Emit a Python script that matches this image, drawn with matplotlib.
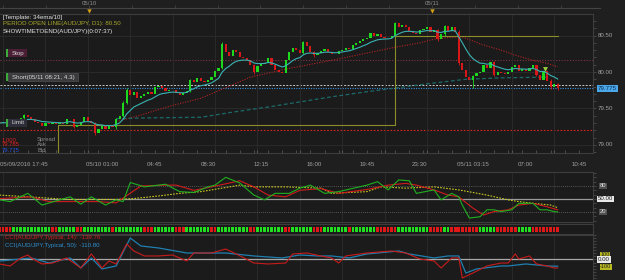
import numpy as np
import pandas as pd
import matplotlib
matplotlib.use("Agg")
import matplotlib.pyplot as plt
from matplotlib.patches import Rectangle
from matplotlib.transforms import blended_transform_factory
from matplotlib.ticker import MultipleLocator

plt.rcParams['font.family'] = ['Liberation Sans', 'DejaVu Sans']

W, H = 625, 280

# ---- data (15 min candles, index 0 = 05/09/2016 17:45) ----
open0 = 79.31
closes = [
    79.30, 79.32, 79.31, 79.33, 79.32, 79.34, 79.37, 79.41, 79.39, 79.35,
    79.31, 79.30, 79.26, 79.30, 79.29, 79.30, 79.29, 79.30, 79.29, 79.36,
    79.35, 79.25, 79.27, 79.32, 79.38, 79.33, 79.30, 79.17, 79.22, 79.26,
    79.22, 79.28, 79.25, 79.36, 79.40, 79.58, 79.75, 79.69, 79.73, 79.65,
    79.67, 79.70, 79.72, 79.70, 79.79, 79.81, 79.78, 79.74, 79.76, 79.75,
    79.71, 79.69, 79.71, 79.74, 79.89, 79.86, 79.92, 79.88, 79.86, 79.89,
    79.93, 80.02, 80.05, 80.38, 80.27, 80.22, 80.30, 80.27, 80.21, 80.19,
    80.16, 80.10, 80.00, 80.08, 80.11, 80.13, 80.19, 80.10, 80.03, 80.00,
    79.98, 80.16, 80.27, 80.33, 80.30, 80.26, 80.41, 80.35, 80.28, 80.23,
    80.26, 80.29, 80.31, 80.28, 80.25, 80.24, 80.29, 80.30, 80.33, 80.32,
    80.37, 80.40, 80.42, 80.45, 80.47, 80.53, 80.50, 80.52, 80.48, 80.47,
    80.46, 80.50, 80.67, 80.62, 80.65, 80.61, 80.56, 80.54, 80.52, 80.57,
    80.59, 80.61, 80.55, 80.58, 80.45, 80.52, 80.63, 80.56, 80.61, 80.55,
    80.12, 80.03, 79.93, 79.89, 79.94, 79.99, 80.00, 80.10, 80.06, 80.14,
    79.96, 80.00, 79.98, 79.97, 80.00, 80.07, 80.10, 80.01, 80.04, 80.02,
    80.05, 80.09, 79.96, 79.89, 80.02, 79.88, 79.80, 79.84, 79.78,
]
# wicks that stick out of the body: index -> (high, low)
wicks = {
    7: (79.43, 79.36), 21: (79.36, 79.23), 27: (79.31, 79.14), 33: (79.37, 79.22),
    35: (79.60, 79.38), 36: (79.78, 79.56), 54: (79.91, 79.72), 63: (80.41, 80.04),
    72: (80.11, 79.97), 86: (80.43, 80.25), 89: (80.29, 80.20), 112: (80.69, 80.49),
    124: (80.59, 80.42), 126: (80.64, 80.50), 130: (80.57, 80.10), 134: (79.96, 79.78),
    140: (80.15, 79.94), 152: (80.10, 79.94), 156: (79.90, 79.77), 158: (79.85, 79.76),
}

ema34_idx = [33, 40, 48, 57, 71, 82, 94, 104, 111, 119, 123, 129, 131, 137, 142, 146, 151, 155, 158]
ema34_val = [79.32, 79.41, 79.53, 79.64, 79.93, 80.05, 80.16, 80.26, 80.33, 80.40, 80.45, 80.48,
             80.48, 80.37, 80.30, 80.23, 80.16, 80.12, 80.07]
slow_idx = [33, 40, 57, 66, 76, 85, 94, 104, 112, 123, 132, 142, 155]
slow_val = [79.36, 79.37, 79.38, 79.45, 79.52, 79.59, 79.66, 79.73, 79.78, 79.85, 79.90, 79.92, 79.93]

period_open_idx = [16.5, 112]
period_open_val = [79.27, 80.50]
prev_period_open = 78.80

stop_price, short_price, bid_price, ask_price, limit_price = 80.16, 79.82, 79.775, 79.785, 79.20
entry_idx = 154.4

time_idx = [0, 29, 44, 59, 74, 89, 104, 119, 134, 149, 164]
time_lbl = ['05/09/2016 17:45', '05/10 01:00', '04:45', '08:30', '12:15', '16:00',
            '19:45', '23:30', '05/11 03:15', '07:00', '10:45']
day_idx = [25, 121]
day_lbl = ['05/10', '05/11']

k_idx = [0, 3, 8, 12, 20, 23, 26, 30, 33, 35, 37, 41, 47, 51, 55, 59, 61, 64, 68, 72,
         75, 78, 82, 85, 88, 92, 96, 104, 107, 110, 113, 116, 118, 123, 125, 128, 130, 131, 133, 136,
         138, 140, 142, 145, 147, 151, 153, 155, 157, 158]
k_val = [48, 44, 63, 36, 55, 38, 55, 36, 48, 44, 88, 78, 84, 67, 65, 78, 82, 100, 87, 59,
         48, 63, 63, 75, 82, 63, 67, 82, 90, 71, 94, 92, 63, 71, 48, 63, 55, 36, 6, 9,
         25, 25, 21, 25, 40, 40, 25, 25, 21, 20]
d_idx = [0, 9, 14, 28, 33, 40, 47, 50, 55, 60, 68, 72, 76, 81, 85, 91, 96, 104, 110, 115,
         118, 123, 127, 130, 134, 137, 140, 144, 147, 151, 155, 158]
d_val = [51, 55, 44, 44, 41, 80, 82, 82, 70, 78, 92, 78, 59, 55, 70, 74, 63, 72, 82, 86,
         82, 71, 59, 55, 29, 13, 21, 25, 36, 40, 32, 25]
s_idx = [0, 12, 19, 33, 38, 45, 51, 57, 60, 68, 72, 81, 91, 94, 104, 108, 115, 123, 130, 138,
         144, 147, 151, 156, 158]
s_val = [59, 53, 49, 49, 51, 57, 63, 67, 71, 82, 78, 78, 75, 63, 67, 78, 75, 78, 71, 59,
         48, 44, 40, 36, 30]

signal = ("RRRRGGGGGGGGGGGRRGGGGGRRGGGGGGGGRGGGGGGGGRRRGGGGGGRRRGGGGGGGRRGGGGGGGGGRRGGGGGGGG"
          "RRGGGGGGRRRGGGGGGGRGGGGGGGRRRRRRGGGGGGGGGRRRRGGRRRRRRRRGGGGGRRRRRRGGGGRRRRRRRR")

cci14_idx = [0, 3, 6, 8, 9, 12, 15, 19, 21, 23, 26, 28, 29, 31, 33, 36, 38, 41, 45, 49,
             53, 55, 60, 64, 67, 72, 76, 81, 83, 87, 91, 94, 96, 98, 104, 111, 115, 119, 123, 125,
             128, 130, 131, 134, 138, 142, 144, 146, 147, 150, 152, 155, 157, 158]
cci14_val = [-74, -107, 25, 74, 25, -74, -58, 25, -58, -140, 91, -58, -140, -25, -74, 256, 140, 58, 58, 74,
             -25, 107, 107, 173, 91, -58, -74, -58, 91, 107, 58, 25, -58, 58, 107, 140, 107, 8, -25, -140,
             25, 25, -305, -223, -107, -58, -58, 91, 8, 58, -74, -107, -140, -140]
cci50_idx = [0, 6, 9, 14, 20, 23, 26, 29, 33, 37, 40, 45, 53, 55, 64, 72, 80, 85, 90, 94,
             99, 104, 113, 116, 123, 127, 130, 132, 135, 142, 144, 149, 155, 158]
cci50_val = [-25, 8, 25, -58, 25, -140, 25, -157, -107, 355, 223, 190, 107, 107, 107, 58, 25, 74, 58, 58,
             25, 91, 140, 91, 25, 58, 58, -223, -157, -107, -107, -74, -107, -111]

# ---- layout helpers ----
BG = '#1f1f1f'
PANEL = '#1b1b1b'
GRID = '#2c2c2c'
EDGE = '#3d3d3d'
TXT = '#a0a0a0'
XLIM = (0.13, 168.0)


def rect(x0, y0, x1, y1):
    return [x0 / W, 1 - y1 / H, (x1 - x0) / W, (y1 - y0) / H]


def ftext(x, y, s, **kw):
    kw.setdefault('fontsize', 4.4)
    kw.setdefault('va', 'center')
    return fig.text(x / W, 1 - y / H, s, **kw)


def fbox(x0, y0, x1, y1, color, **kw):
    fig.patches.append(Rectangle((x0 / W, 1 - y1 / H), (x1 - x0) / W, (y1 - y0) / H,
                                 transform=fig.transFigure, facecolor=color, **kw))


def style_panel(ax):
    ax.set_facecolor(PANEL)
    ax.set_xlim(*XLIM)
    for sp in ax.spines.values():
        sp.set_color(EDGE)
        sp.set_linewidth(0.8)
    ax.spines['left'].set_visible(False)
    ax.set_xticks(np.arange(1, 168, 12))
    ax.grid(True, axis='x', color=GRID, lw=0.6)
    ax.tick_params(axis='x', which='both', bottom=False, labelbottom=False)
    ax.tick_params(axis='y', which='both', left=False, labelleft=False, right=True,
                   labelright=False, direction='out', length=2, color='#555555', width=0.5)


fig = plt.figure(figsize=(W / 100, H / 100), dpi=100, facecolor=BG)

# ---- top date strip ----
ax_top = fig.add_axes(rect(0, 8, 600, 14))
ax_top.set_xlim(*XLIM)
ax_top.set_ylim(0, 1)
ax_top.set_facecolor(BG)
for sp in ax_top.spines.values():
    sp.set_visible(False)
ax_top.spines['top'].set_visible(True)
ax_top.spines['top'].set_color('#444444')
ax_top.set_xticks(np.arange(1, 168, 12))
ax_top.tick_params(axis='x', top=True, bottom=False, labelbottom=False, direction='out',
                   length=2, color='#444444', width=0.6)
ax_top.set_yticks([])
ax_top.plot(day_idx, [0.45, 0.45], 'v', color='#d4a017', ms=3.2, mec='none')
tr_top = blended_transform_factory(ax_top.transData, ax_top.transAxes)
for i, s in zip(day_idx, day_lbl):
    ax_top.text(i, 1.75, s, transform=tr_top, ha='center', va='center', fontsize=4.4, color='#8a8a8a')

# ---- main price panel ----
ax = fig.add_axes(rect(0, 14, 593, 153))
style_panel(ax)
ax.set_ylim(78.89, 80.795)
ax.set_yticks([79.0, 79.5, 80.0, 80.5])
ax.yaxis.set_minor_locator(MultipleLocator(0.1))
ax.grid(True, axis='y', color=GRID, lw=0.6)
ax.tick_params(axis='x', which='both', bottom=True, direction='in', length=2, color='#555555')
ax.xaxis.set_minor_locator(MultipleLocator(4))

idx = np.arange(len(closes))
opens = np.array([open0] + closes[:-1])
cl = np.array(closes)
up = cl >= opens
for i in idx:
    col = '#1ed81e' if up[i] else '#d81818'
    if i in wicks:
        hi, lo = wicks[i]
        ax.vlines(i, lo, hi, color=col, lw=0.6, zorder=3)
    body = cl[i] - opens[i]
    if abs(body) < 0.006:
        body = 0.006
    ax.bar(i, body, bottom=opens[i], width=0.62, color=col, lw=0, zorder=4)

ema10 = pd.Series(closes).ewm(span=10, adjust=False).mean()
ax.plot(idx, ema10, color='#3ab3b3', lw=0.8, zorder=5)
ax.plot(ema34_idx, ema34_val, color='#b02424', lw=0.8, ls=(0, (1, 1.3)), zorder=2)
ax.plot(slow_idx, slow_val, color='#1d6a6a', lw=0.9, ls=(0, (3, 2)), zorder=2)

po_x = [period_open_idx[0], period_open_idx[0], period_open_idx[1], period_open_idx[1], len(closes) - 1]
po_y = [prev_period_open, period_open_val[0], period_open_val[0], period_open_val[1], period_open_val[1]]
ax.plot(po_x, po_y, color='#8c8c2c', lw=0.8, zorder=2)

ax.axhline(stop_price, color='#7c3448', lw=0.8, ls=(0, (1, 1.5)), zorder=1)
ax.axhline(short_price, color='#c8c8c8', lw=0.7, ls=(0, (2, 1.5)), zorder=1)
ax.axhline(bid_price, color='#3a8ed8', lw=0.8, ls=(0, (1, 1.2)), zorder=1)
ax.axhline(limit_price, color='#d0241e', lw=0.8, ls=(0, (1.5, 1.5)), zorder=1)
ax.plot([entry_idx], [80.04], marker='v', color='#9ccc3c', ms=3.5, mec='none', zorder=6)

ytr = ax.get_yaxis_transform()
for v in [80.5, 80.0, 79.5, 79.0]:
    ax.text(1.008, v, f'{v:.2f}', transform=ytr, fontsize=4.4, color=TXT, va='center', ha='left')
ax.text(1.008, bid_price, f'{bid_price:.3f}', transform=ytr, fontsize=4.4, color='#0c2c55',
        va='center', ha='left', bbox=dict(boxstyle='square,pad=0.15', fc='#4aa8e8', ec='none'))

# time axis labels
ttr = blended_transform_factory(ax.transData, fig.transFigure)
for i, s in zip(time_idx, time_lbl):
    ax.text(i, 1 - 165 / H, s, transform=ttr, fontsize=4.4, color=TXT, va='center',
            ha='left' if i == 0 else 'center', clip_on=False)

# header text
ftext(3, 17, '[Template: 34ema/10]', color='#e6e6e6')
ftext(3, 24, 'PERIOD OPEN LINE(AUD/JPY, D1): 80.50', color='#a8a82a')
ftext(3, 31, 'SHOWTIMETOEND(AUD/JPY)(0:07:37)', color='#e6e6e6')

# order labels
fbox(6, 49, 8, 57, '#3caa3c', zorder=10)
fbox(8, 49, 27, 57, '#4a1f36', zorder=10)
ftext(12, 53, 'Stop', color='#d8d8d8', zorder=11)
fbox(6, 73, 8, 81, '#3caa3c', zorder=10)
fbox(8, 73, 78, 81, '#3a3a3c', edgecolor='#5a5a5a', lw=0.4, zorder=10)
ftext(12, 77, 'Short(05/11 08:21, 4.3)', color='#d8d8d8', zorder=11)
fbox(6, 119, 8, 127, '#3caa3c', zorder=10)
fbox(8, 119, 27, 127, '#2e2e3a', zorder=10)
ftext(12, 123, 'Limit', color='#d8d8d8', zorder=11)

ftext(2, 140, '1.000', color='#e02020', fontsize=4.2)
ftext(2, 145, f'{ask_price:.3f}', color='#e02020', fontsize=4.2)
ftext(2, 150, f'{bid_price:.3f}', color='#2a55e0', fontsize=4.2)
ftext(37, 140, 'Spread', color='#8a8a8a', fontsize=4.2)
ftext(37, 145, 'Ask', color='#8a8a8a', fontsize=4.2)
ftext(37, 150, 'Bid', color='#8a8a8a', fontsize=4.2)

# ---- stochastic panel ----
ax2 = fig.add_axes(rect(0, 172, 593, 222))
style_panel(ax2)
ax2.set_ylim(-3.1, 112.3)
ax2.set_yticks([20, 50, 80])
ax2.yaxis.set_minor_locator(MultipleLocator(10))
ax2.axhline(80, color='#6a6a6a', lw=0.6, ls=(0, (1, 1.5)))
ax2.axhline(20, color='#6a6a6a', lw=0.6, ls=(0, (1, 1.5)))
ax2.axhline(50, color='#9a9a9a', lw=0.9)
ax2.plot(s_idx, s_val, color='#c8c820', lw=0.8, ls=(0, (1.5, 1.2)))
ax2.plot(d_idx, d_val, color='#d01c1c', lw=0.8)
ax2.plot(k_idx, k_val, color='#20b020', lw=0.8)
ytr2 = ax2.get_yaxis_transform()
ax2.text(1.012, 80, '80', transform=ytr2, fontsize=4.2, color='#dddddd', va='center',
         bbox=dict(boxstyle='square,pad=0.15', fc='#505050', ec='none'))
ax2.text(1.008, 50, '50.00', transform=ytr2, fontsize=4.4, color='#202020', va='center',
         bbox=dict(boxstyle='square,pad=0.15', fc='#e8e8e8', ec='none'))
ax2.text(1.012, 20, '20', transform=ytr2, fontsize=4.2, color='#dddddd', va='center',
         bbox=dict(boxstyle='square,pad=0.15', fc='#505050', ec='none'))

# ---- signal squares ----
ax3 = fig.add_axes(rect(0, 224, 593, 234))
style_panel(ax3)
ax3.grid(False)
ax3.set_ylim(0, 1)
ax3.set_yticks([])
sq_col = ['#20e020' if c == 'G' else '#e01818' for c in signal]
ax3.bar(np.arange(len(signal)), 0.5, bottom=0.25, width=0.72, color=sq_col, lw=0)

# ---- CCI panel ----
ax4 = fig.add_axes(rect(0, 235, 593, 281))
style_panel(ax4)
ax4.set_ylim(-355, 404)
ax4.set_yticks([-100, 0, 100])
ax4.yaxis.set_minor_locator(MultipleLocator(50))
ax4.axhline(0, color='#a8a8a8', lw=0.9)
ax4.plot(cci50_idx, cci50_val, color='#1f7fb0', lw=0.9)
ax4.plot(cci14_idx, cci14_val, color='#c81c1c', lw=0.8)
ftext(5, 238, 'CCI(AUD/JPY,Typical, 14): -139.76', color='#d02222')
ftext(5, 245, 'CCI(AUD/JPY,Typical, 50): -110.80', color='#2f8fd0')
ytr4 = ax4.get_yaxis_transform()
ax4.text(1.012, 74, '100', transform=ytr4, fontsize=4.0, color='#222222', va='center',
         bbox=dict(boxstyle='square,pad=0.1', fc='#b8b820', ec='none'))
ax4.text(1.012, -120, '-100', transform=ytr4, fontsize=4.0, color='#222222', va='center',
         bbox=dict(boxstyle='square,pad=0.1', fc='#b8b820', ec='none'))
ax4.text(1.008, 0, '0.00', transform=ytr4, fontsize=4.4, color='#202020', va='center',
         bbox=dict(boxstyle='square,pad=0.15', fc='#e8e8e8', ec='none'), zorder=5)

fig.savefig('out.png', dpi=100, facecolor=BG)
